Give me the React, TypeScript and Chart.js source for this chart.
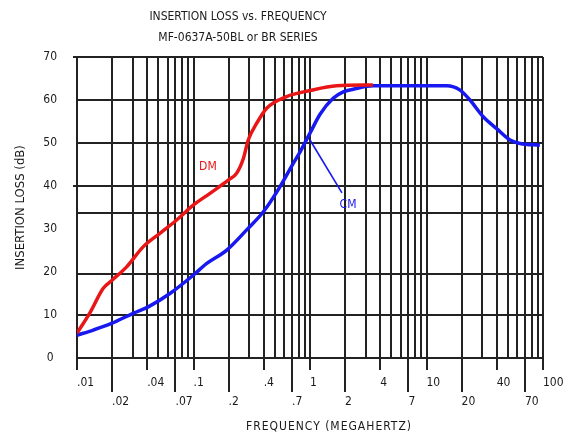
import React, { useEffect, useRef } from 'react';
import { Chart, registerables } from 'chart.js';

Chart.register(...registerables);

// ---- data ----
const dmFreq = [0.01, 0.0129, 0.0168, 0.02, 0.0267, 0.0371, 0.0515, 0.0717, 0.1, 0.1386, 0.2, 0.235, 0.268, 0.295, 0.349, 0.425, 0.63, 1.0, 1.69, 3.47];
const dmLoss = [5.8, 10.5, 16.2, 18.1, 21.2, 25.9, 29.0, 32.1, 35.6, 38.3, 41.4, 43.0, 46.4, 50.7, 54.6, 58.1, 60.8, 62.2, 63.3, 63.5];

const cmFreq = [0.01, 0.0138, 0.02, 0.0304, 0.0409, 0.0628, 0.1, 0.13, 0.193, 0.286, 0.398, 0.552, 0.72, 0.82, 1.0, 1.22, 1.58, 1.93, 2.35, 3.5, 14.9, 19.4, 23.6, 30.7, 39.8, 52.1, 63.5, 94];
const cmLoss = [5.3, 6.5, 8.1, 10.4, 11.9, 15.0, 19.3, 22.0, 25.1, 29.8, 34.0, 39.8, 45.3, 47.9, 52.3, 56.7, 60.4, 61.9, 62.5, 63.3, 63.3, 62.3, 60.0, 56.1, 53.4, 50.7, 49.9, 49.5];

const xTopValues = [0.01, 0.04, 0.1, 0.4, 1, 4, 10, 40, 100];
const xTopText = ['.01', '.04', '.1', '.4', '1', '4', '10', '40', '100'];
const xBottomValues = [0.02, 0.07, 0.2, 0.7, 2, 7, 20, 70];
const xBottomText = ['.02', '.07', '.2', '.7', '2', '7', '20', '70'];
const xDecades = [0.01, 0.1, 1, 10];
const xMultiples = [1, 2, 3, 4, 5, 6, 7, 8, 9];

const yTickValues = [0, 10, 20, 30, 40, 50, 60, 70];
const yGridValues = [0, 10, 19.5, 33.7, 40, 50, 60, 70];
const yMarkedValues = [40, 70];

const titleLines = ['INSERTION LOSS vs. FREQUENCY', 'MF-0637A-50BL or BR SERIES'];
const xTitle = 'FREQUENCY (MEGAHERTZ)';
const yTitle = 'INSERTION LOSS (dB)';

const dmLabel = { text: 'DM', f: 0.133, v: 44.4 };
const cmLabel = { text: 'CM', f: 2.12, v: 35.6 };
const cmLeader = { f1: 1.0, v1: 50.7, f2: 1.88, v2: 38.4 };

// ---- style ----
const FONT = '"Liberation Sans Narrow", "DejaVu Sans Condensed", "Liberation Sans", Arial, sans-serif';
const RED = '#e81616';
const BLUE = '#1818f0';
const INK = '#1a1a1a';
const GRID = '#222222';

const sameLog = (a: number, b: number) => Math.abs(Math.log10(a) - Math.log10(b)) < 1e-6;
const idxIn = (arr: number[], v: number) => arr.findIndex((t) => sameLog(t, v));

const xGridValues: number[] = [];
xDecades.forEach((d) => xMultiples.forEach((m) => xGridValues.push(Number((d * m).toPrecision(3)))));
xGridValues.push(100);

const textPlugin = {
  id: 'textPlugin',
  afterDraw(chart: any) {
    const { ctx, scales } = chart;
    const x = scales.x;
    const y = scales.y;
    ctx.save();
    // CM leader line
    ctx.strokeStyle = BLUE;
    ctx.lineWidth = 1.6;
    ctx.beginPath();
    ctx.moveTo(x.getPixelForValue(cmLeader.f1), y.getPixelForValue(cmLeader.v1));
    ctx.lineTo(x.getPixelForValue(cmLeader.f2), y.getPixelForValue(cmLeader.v2));
    ctx.stroke();
    // curve labels
    ctx.font = `12px ${FONT}`;
    ctx.textAlign = 'center';
    ctx.textBaseline = 'middle';
    ctx.fillStyle = RED;
    ctx.fillText(dmLabel.text, x.getPixelForValue(dmLabel.f), y.getPixelForValue(dmLabel.v));
    ctx.fillStyle = BLUE;
    ctx.fillText(cmLabel.text, x.getPixelForValue(cmLabel.f), y.getPixelForValue(cmLabel.v));
    // titles
    ctx.fillStyle = INK;
    ctx.font = `12px ${FONT}`;
    ctx.fillText(titleLines[0], 238, 16.5);
    ctx.fillText(titleLines[1], 238, 37.5);
    try { (ctx as any).letterSpacing = '1px'; } catch (e) {}
    ctx.fillText(xTitle, 329, 427);
    ctx.restore();
  },
};

export default function App() {
  const ref = useRef<HTMLCanvasElement | null>(null);

  useEffect(() => {
    if (!ref.current) return;
    const chart = new Chart(ref.current, {
      type: 'line',
      data: {
        datasets: [
          {
            label: 'DM',
            data: dmFreq.map((f, i) => ({ x: f, y: dmLoss[i] })),
            borderColor: RED,
            borderWidth: 3.5,
            pointRadius: 0,
            cubicInterpolationMode: 'monotone',
            xAxisID: 'x',
            yAxisID: 'y',
          },
          {
            label: 'CM',
            data: cmFreq.map((f, i) => ({ x: f, y: cmLoss[i] })),
            borderColor: BLUE,
            borderWidth: 3.5,
            pointRadius: 0,
            cubicInterpolationMode: 'monotone',
            xAxisID: 'x',
            yAxisID: 'y',
          },
        ],
      },
      options: {
        animation: false,
        responsive: true,
        maintainAspectRatio: false,
        layout: { padding: { top: 57, right: 25, bottom: 18, left: 0 } },
        plugins: { legend: { display: false }, title: { display: false }, tooltip: { enabled: false } },
        scales: {
          x: {
            type: 'logarithmic',
            position: 'bottom',
            min: 0.01,
            max: 100,
            afterBuildTicks: (scale: any) => {
              scale.ticks = xGridValues.map((v) => ({ value: v }));
            },
            afterFit: (scale: any) => {
              scale.height = 60;
            },
            grid: {
              color: GRID,
              lineWidth: 2,
              drawTicks: true,
              tickLength: 34,
              tickWidth: 2,
              tickColor: (c: any) => {
                const v = c.tick ? c.tick.value : 0;
                return idxIn(xTopValues, v) >= 0 || idxIn(xBottomValues, v) >= 0 ? GRID : 'rgba(0,0,0,0)';
              },
              tickBorderDash: (c: any) => {
                const v = c.tick ? c.tick.value : 0;
                return idxIn(xTopValues, v) >= 0 ? [11, 60] : [];
              },
            },
            border: { display: true, color: GRID, width: 2 },
            ticks: {
              autoSkip: false,
              maxRotation: 0,
              minRotation: 0,
              align: 'start',
              padding: -18.5,
              color: INK,
              font: { family: FONT, size: 12, lineHeight: 19 / 12 },
              callback: (value: any) => {
                const v = Number(value);
                const t = idxIn(xTopValues, v);
                if (t >= 0) return [xTopText[t]];
                const b = idxIn(xBottomValues, v);
                if (b >= 0) return ['', xBottomText[b]];
                return '';
              },
            },
          },
          y: {
            type: 'linear',
            position: 'left',
            weight: 1,
            min: 0,
            max: 70,
            afterBuildTicks: (scale: any) => {
              scale.ticks = yTickValues.map((v) => ({ value: v }));
            },
            afterFit: (scale: any) => {
              scale.width = 73;
            },
            grid: { display: false, drawTicks: false },
            border: { display: false },
            ticks: {
              crossAlign: 'center',
              padding: 16,
              color: INK,
              font: { family: FONT, size: 12 },
            },
            title: {
              display: true,
              text: yTitle,
              color: INK,
              padding: { top: 13.2, bottom: 0 },
              font: { family: FONT, size: 13 },
            },
          },
          yGrid: {
            type: 'linear',
            position: 'left',
            weight: 0,
            min: 0,
            max: 70,
            afterBuildTicks: (scale: any) => {
              scale.ticks = yGridValues.map((v) => ({ value: v }));
            },
            grid: {
              color: GRID,
              lineWidth: 2,
              drawTicks: true,
              tickLength: 4,
              tickWidth: 2,
              tickColor: (c: any) => {
                const v = c.tick ? c.tick.value : -1;
                return yMarkedValues.includes(v) ? GRID : 'rgba(0,0,0,0)';
              },
            },
            border: { display: false },
            ticks: { display: false },
          },
        },
      } as any,
      plugins: [textPlugin],
    });
    return () => chart.destroy();
  }, []);

  return (
    <div style={{ position: 'absolute', left: 0, top: 0, width: 568, height: 436 }}>
      <canvas ref={ref} />
    </div>
  );
}
